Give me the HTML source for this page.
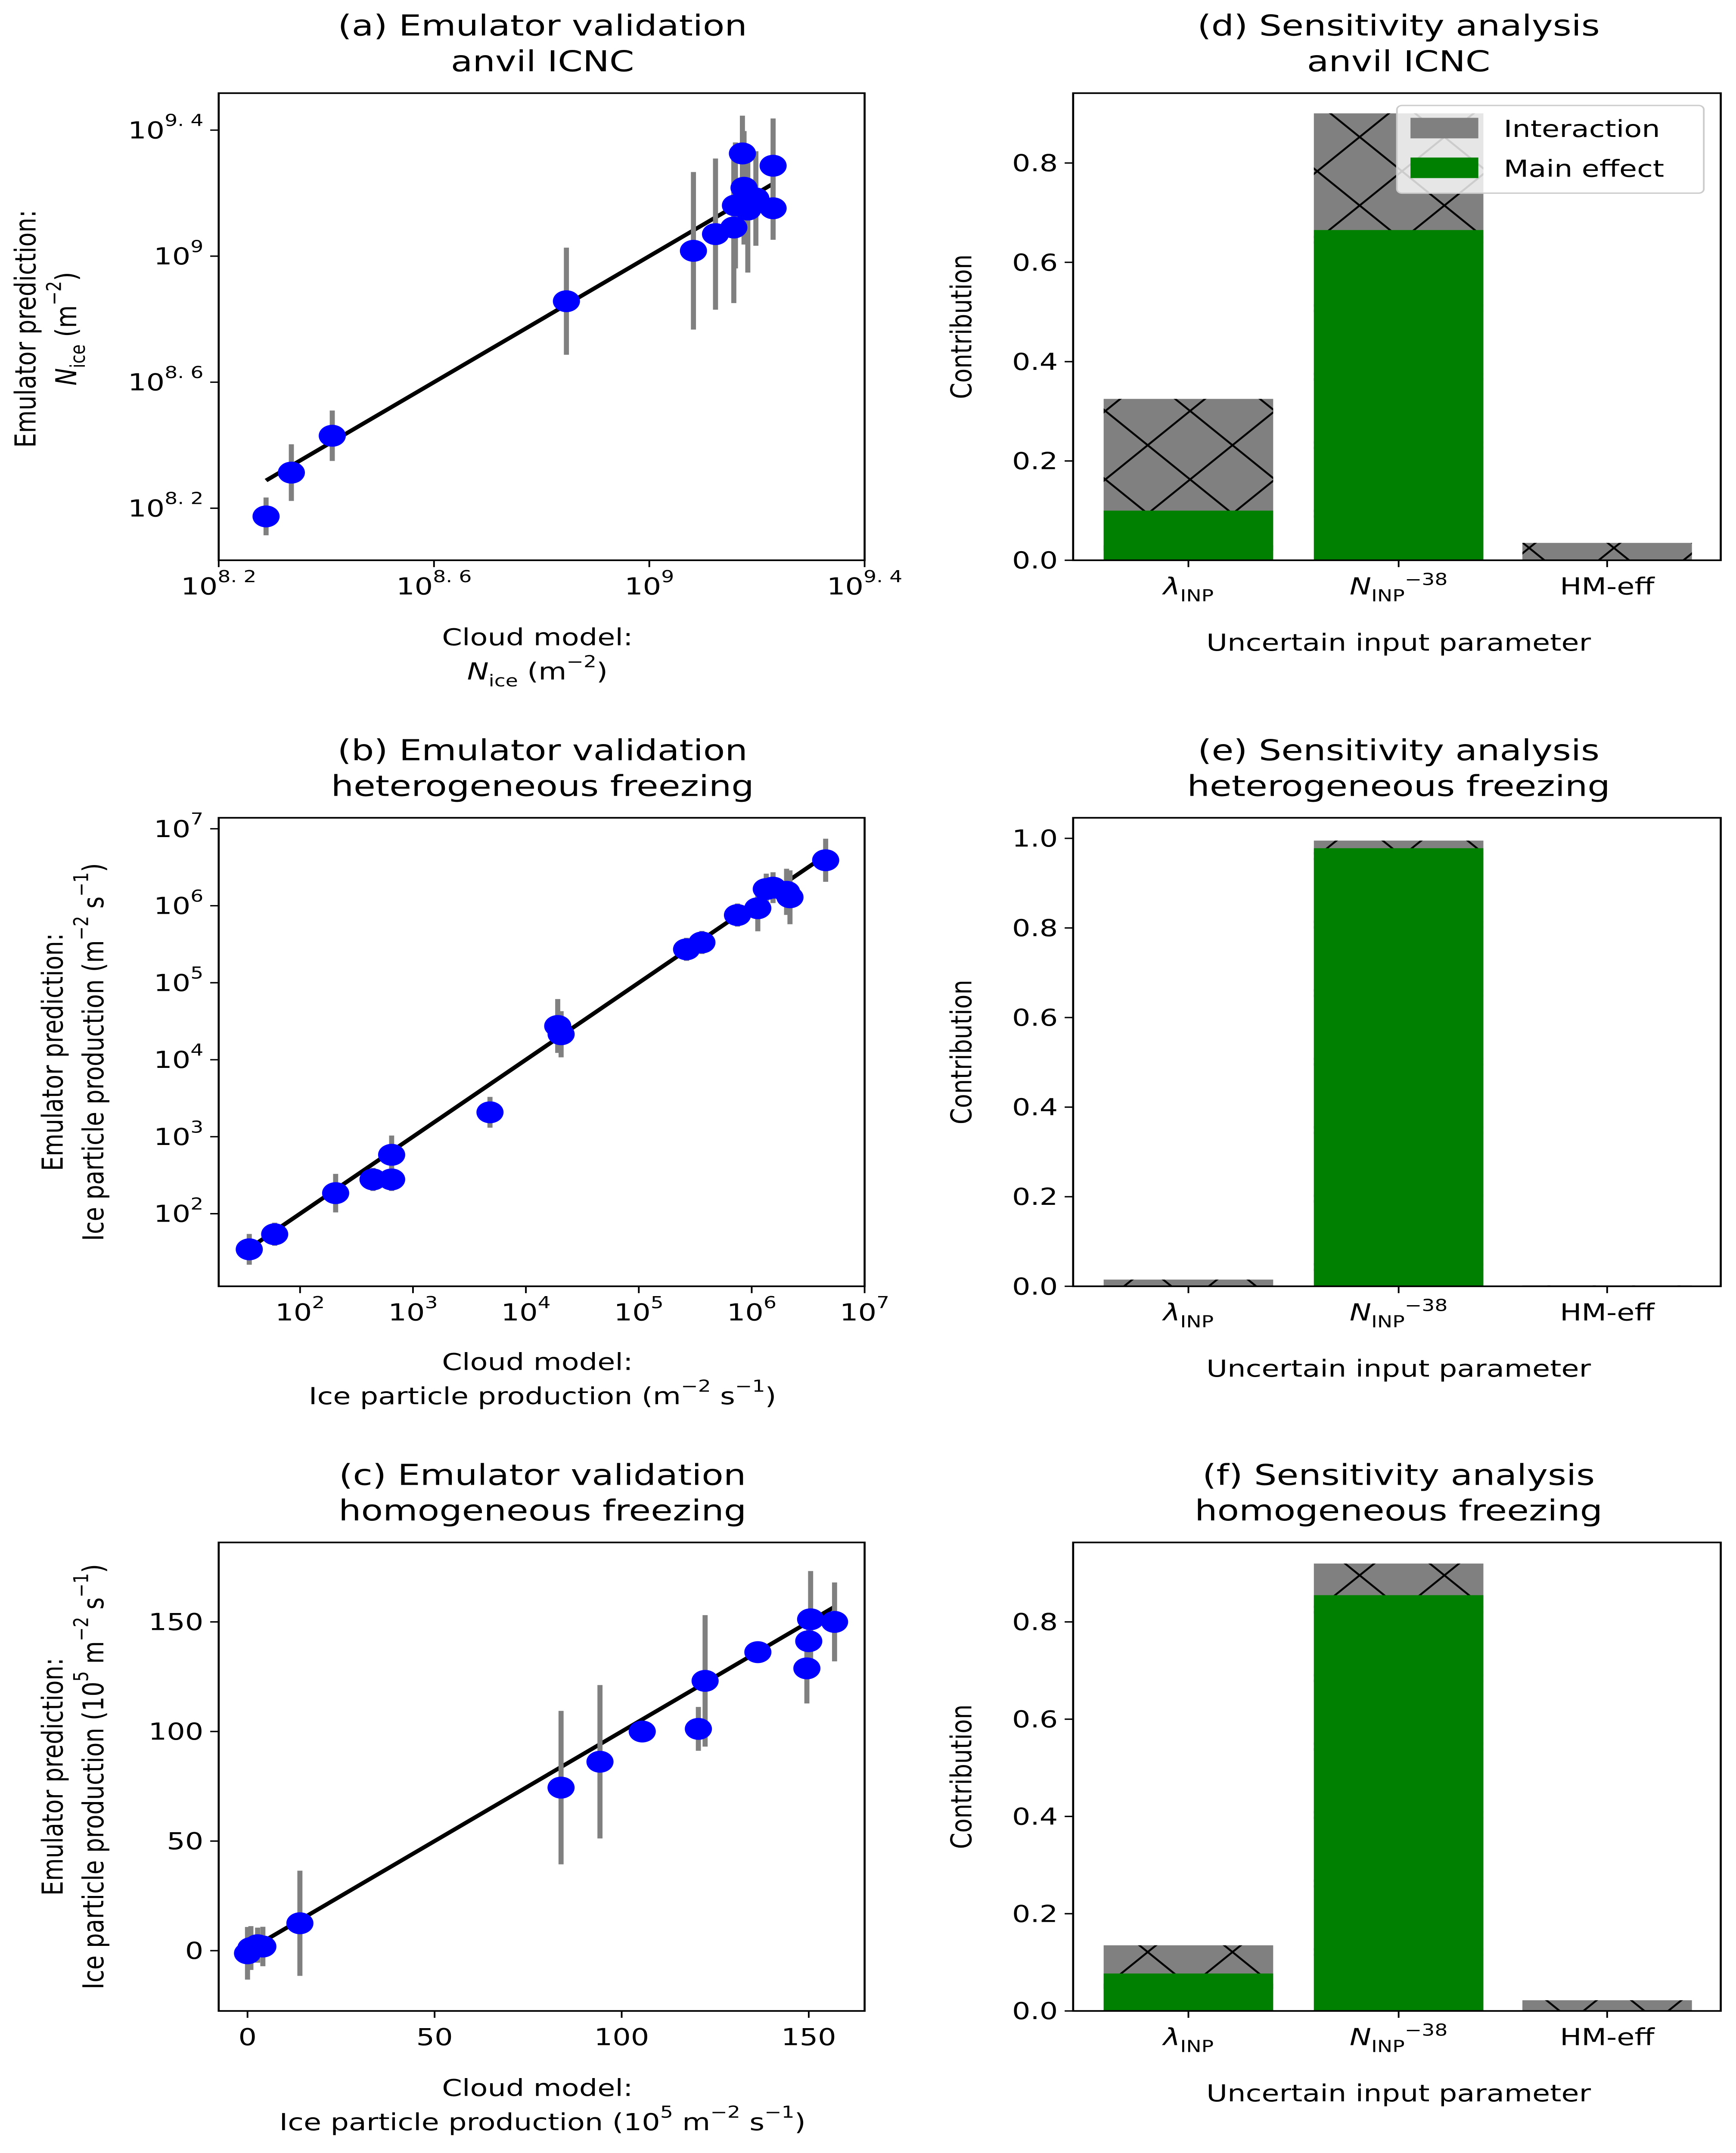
<!DOCTYPE html>
<html><head><meta charset="utf-8">
<style>
html,body{margin:0;padding:0;background:#fff;width:100%;height:100%;overflow:hidden;}
svg{display:block;width:100vw;height:100vh;font-family:"DejaVu Sans","Liberation Sans",sans-serif;}
</style></head>
<body>
<svg id="fig" viewBox="0 0 1024 1571.7" preserveAspectRatio="none" xmlns="http://www.w3.org/2000/svg">
<defs>
<pattern id="hatch" patternUnits="userSpaceOnUse" width="50" height="50" x="652" y="0">
<path d="M0,0L50,50M50,0L0,50" stroke="#000" stroke-width="1.3"/>
</pattern>
</defs>
</svg>
<script>
// ---- Panel (a) data (log10 values) ----
const aX = [8.288,8.335,8.411,8.846,9.082,9.123,9.157,9.160,9.173,9.176,9.183,9.198,9.230,9.230];
const aY = [8.174,8.313,8.430,8.857,9.017,9.070,9.091,9.161,9.326,9.217,9.148,9.183,9.287,9.152];
const aErr = [0.06,0.09,0.08,0.17,0.25,0.24,0.24,0.2,0.12,0.18,0.2,0.15,0.15,0.1];
const aFit = [8.288,9.230];
// ---- Panel (b) data (log10 values) ----
const bX = [1.550,1.775,2.315,2.646,2.811,2.811,3.682,4.282,4.312,5.423,5.559,5.874,6.054,6.129,6.189,6.309,6.339,6.655];
const bY = [1.537,1.733,2.267,2.445,2.445,2.765,3.317,4.438,4.331,5.434,5.523,5.879,5.968,6.217,6.235,6.181,6.110,6.591];
const bErr = [0.2,0.15,0.25,0.15,0.15,0.25,0.2,0.35,0.3,0.15,0.15,0.15,0.3,0.2,0.2,0.3,0.35,0.28];
const bFit = [1.55,6.655];
// ---- Panel (c) data ----
const cX = [0,0.9,2.7,4.1,14.0,83.8,94.2,105.5,120.5,122.3,136.4,149.5,150,150.5,156.9];
const cY = [-1.2,1.2,2.5,1.9,12.5,74.4,86.2,100,101.2,123.1,136.2,128.8,141.2,151.2,150];
const cErr = [12,10,8,9,24,35,35,3,10,30,3,16,10,22,18];
const cFit = [0,156.9];
// ---- Bar data ----
const barCats = ["λ","N","HM"];
const dTotal = [0.325,0.90,0.035], dMain = [0.10,0.665,0.0];
const eTotal = [0.015,0.995,0.002], eMain = [0.0,0.978,0.0];
const fTotal = [0.135,0.92,0.022], fMain = [0.077,0.855,0.0];
const dTicks = [0,0.2,0.4,0.6,0.8], eTicks=[0,0.2,0.4,0.6,0.8,1.0], fTicks=[0,0.2,0.4,0.6,0.8];

const svg = document.getElementById('fig');
const NS = "http://www.w3.org/2000/svg";
function mk(tag, attrs, parent){
  const e = document.createElementNS(NS, tag);
  for (const k in attrs) e.setAttribute(k, attrs[k]);
  (parent||svg).appendChild(e);
  return e;
}
function txt(x,y,s,size,anchor,parent){
  const t = mk('text',{x:x,y:y,'font-size':size,'text-anchor':anchor||'middle',fill:'#000'},parent);
  t.innerHTML = s;
  return t;
}
function box(x0,y0,x1,y1,name){
  const r = mk('rect',{x:x0,y:y0,width:x1-x0,height:y1-y0,fill:'none',stroke:'#000','stroke-width':1.2});
  
  
}
function xtick(x,y,label,name){
  const l = mk('line',{x1:x,y1:y,x2:x,y2:y+5,stroke:'#000','stroke-width':1});
  
  
  const t = txt(x,y+25,label,17);
  
  
}
function ytick(x,y,label,name){
  const l = mk('line',{x1:x-5,y1:y,x2:x,y2:y,stroke:'#000','stroke-width':1});
  
  
  const t = txt(x-9,y+6,label,17,'end');
  
  
}
function title(cx,l1,l2,y,name){
  const t1 = txt(cx,y,l1,21);  
  const t2 = txt(cx,y+26,l2,21);  
}
function scatter(xs,ys,errs,fit,sx,sy,name){
  const fl = mk('line',{x1:sx(fit[0]),y1:sy(fit[0]),x2:sx(fit[1]),y2:sy(fit[1]),stroke:'#000','stroke-width':2.8});
  
  
  for(let i=0;i<xs.length;i++){
    const e = mk('line',{x1:sx(xs[i]),x2:sx(xs[i]),y1:sy(ys[i]-errs[i]),y2:sy(ys[i]+errs[i]),stroke:'#808080','stroke-width':3});
    
    
  }
  for(let i=0;i<xs.length;i++){
    const c = mk('circle',{cx:sx(xs[i]),cy:sy(ys[i]),r:8,fill:'#0000ff'});
    
    
  }
}
function sup(base,exp){ return base+'<tspan dy="-9" font-size="12">'+exp+'</tspan>'; }

// ===== Panel (a) =====
{
  const sx = v => 129 + (v-8.2)/1.2*381;
  const sy = v => 371 - (v-8.2)/0.4*92;
  title(320,'(a) Emulator validation','anvil ICNC',26,'panel-a');
  scatter(aX,aY,aErr,aFit,sx,sy,'panel-a');
  box(129,68,510,409,'panel-a-axes');
  [[8.2,'8. 2'],[8.6,'8. 6'],[9.0,'9'],[9.4,'9. 4']].forEach(t=>{
    xtick(sx(t[0]),409,sup('10',t[1]),'panel-a-x');
    ytick(129,sy(t[0]),sup('10',t[1]),'panel-a-y');
  });
  let t = txt(317,471,'Cloud model:',17);  
  t = txt(317,496,'<tspan font-style="italic">N</tspan><tspan font-size="12" dy="5">ice</tspan><tspan dy="-5"> (m</tspan><tspan dy="-9" font-size="12">−2</tspan><tspan dy="9">)</tspan>',17);  
  const g = mk('g',{transform:'translate(21,240) rotate(-90)'});
  t = txt(0,0,'Emulator prediction:',17,'middle',g);  
  t = txt(0,24,'<tspan font-style="italic">N</tspan><tspan font-size="12" dy="5">ice</tspan><tspan dy="-5"> (m</tspan><tspan dy="-9" font-size="12">−2</tspan><tspan dy="9">)</tspan>',17,'middle',g);  
}
// ===== Panel (b) =====
{
  const sx = v => 177 + (v-2)*66.6;
  const sy = v => 605 - (v-7)*56.2;
  title(320,'(b) Emulator validation','heterogeneous freezing',555,'panel-b');
  scatter(bX,bY,bErr,bFit,sx,sy,'panel-b');
  box(129,597,510,939,'panel-b-axes');
  [2,3,4,5,6,7].forEach(v=>xtick(sx(v),939,sup('10',v),'panel-b-x'));
  [2,3,4,5,6,7].forEach(v=>ytick(129,sy(v),sup('10',v),'panel-b-y'));
  let t = txt(317,1000,'Cloud model:',17);  
  t = txt(320,1025,'Ice particle production  (m<tspan dy="-9" font-size="12">−2</tspan><tspan dy="9"> s</tspan><tspan dy="-9" font-size="12">−1</tspan><tspan dy="9">)</tspan>',17);  
  const g = mk('g',{transform:'translate(37,768) rotate(-90)'});
  t = txt(0,0,'Emulator prediction:',17,'middle',g);  
  t = txt(0,24,'Ice particle production  (m<tspan dy="-9" font-size="12">−2</tspan><tspan dy="9"> s</tspan><tspan dy="-9" font-size="12">−1</tspan><tspan dy="9">)</tspan>',17,'middle',g);  
}
// ===== Panel (c) =====
{
  const sx = v => 146 + v*2.207;
  const sy = v => 1424 - v*1.6;
  title(320,'(c) Emulator validation','homogeneous freezing',1084,'panel-c');
  scatter(cX,cY,cErr,cFit,sx,sy,'panel-c');
  box(129,1126,510,1468,'panel-c-axes');
  [0,50,100,150].forEach(v=>xtick(sx(v),1468,v,'panel-c-x'));
  [0,50,100,150].forEach(v=>ytick(129,sy(v),v,'panel-c-y'));
  let t = txt(317,1530,'Cloud model:',17);  
  t = txt(320,1555,'Ice particle production  (10<tspan dy="-9" font-size="12">5</tspan><tspan dy="9"> m</tspan><tspan dy="-9" font-size="12">−2</tspan><tspan dy="9"> s</tspan><tspan dy="-9" font-size="12">−1</tspan><tspan dy="9">)</tspan>',17);  
  const g = mk('g',{transform:'translate(37,1297) rotate(-90)'});
  t = txt(0,0,'Emulator prediction:',17,'middle',g);  
  t = txt(0,24,'Ice particle production  (10<tspan dy="-9" font-size="12">5</tspan><tspan dy="9"> m</tspan><tspan dy="-9" font-size="12">−2</tspan><tspan dy="9"> s</tspan><tspan dy="-9" font-size="12">−1</tspan><tspan dy="9">)</tspan>',17,'middle',g);  
}
// ===== Bar panels =====
function barPanel(y0,y1,zeroY,pxPerUnit,total,main,ticks,titleL2,titleY,name,legend){
  const sy = v => zeroY - v*pxPerUnit;
  const centers = [701,825,948];
  title(825,titleY[0],titleL2,titleY[1],name);
  for(let i=0;i<barCats.length;i++){
    const r = mk('rect',{x:centers[i]-50,y:sy(total[i]),width:100,height:sy(0)-sy(total[i]),fill:'#808080'});
    
    
    const h = mk('rect',{x:centers[i]-50,y:sy(total[i]),width:100,height:sy(0)-sy(total[i]),fill:'url(#hatch)'});
    
    
    if(main[i]>0){
      const m = mk('rect',{x:centers[i]-50,y:sy(main[i]),width:100,height:sy(0)-sy(main[i]),fill:'#008000'});
      
      
    }
  }
  box(633,y0,1015,y1,name+'-axes');
  ticks.forEach(v=>ytick(633,sy(v),v.toFixed(1),name+'-y'));
  const labels = ['<tspan font-style="italic">λ</tspan><tspan font-size="12" dy="5">INP</tspan>',
    '<tspan font-style="italic">N</tspan><tspan font-size="12" dy="5">INP</tspan><tspan font-size="12" dy="-12">−38</tspan>',
    'HM-eff'];
  centers.forEach((c,i)=>xtick(c,y1,labels[i],name+'-x'));
  let t = txt(825,y1+66,'Uncertain input parameter',17);  
  const g = mk('g',{transform:'translate('+573+','+((y0+y1)/2)+') rotate(-90)'});
  t = txt(0,0,'Contribution',17,'middle',g);  
  if(legend){
    const lb = mk('rect',{x:824,y:77,width:181,height:64,rx:3,fill:'#fff','fill-opacity':0.8,stroke:'#ccc','stroke-width':1});
     
    const p1 = mk('rect',{x:832,y:86,width:40,height:15,fill:'#808080'});
     
    t = txt(887,100,'Interaction',17,'start');  
    const p2 = mk('rect',{x:832,y:115,width:40,height:15,fill:'#008000'});
     
    t = txt(887,129,'Main effect',17,'start');  
  }
}
barPanel(68,409,409,362.5,dTotal,dMain,dTicks,'anvil ICNC',['(d) Sensitivity analysis',26],'panel-d',true);
barPanel(597,939,939,327,eTotal,eMain,eTicks,'heterogeneous freezing',['(e) Sensitivity analysis',555],'panel-e',false);
barPanel(1126,1468,1468,355,fTotal,fMain,fTicks,'homogeneous freezing',['(f) Sensitivity analysis',1084],'panel-f',false);
</script>
</body></html>
